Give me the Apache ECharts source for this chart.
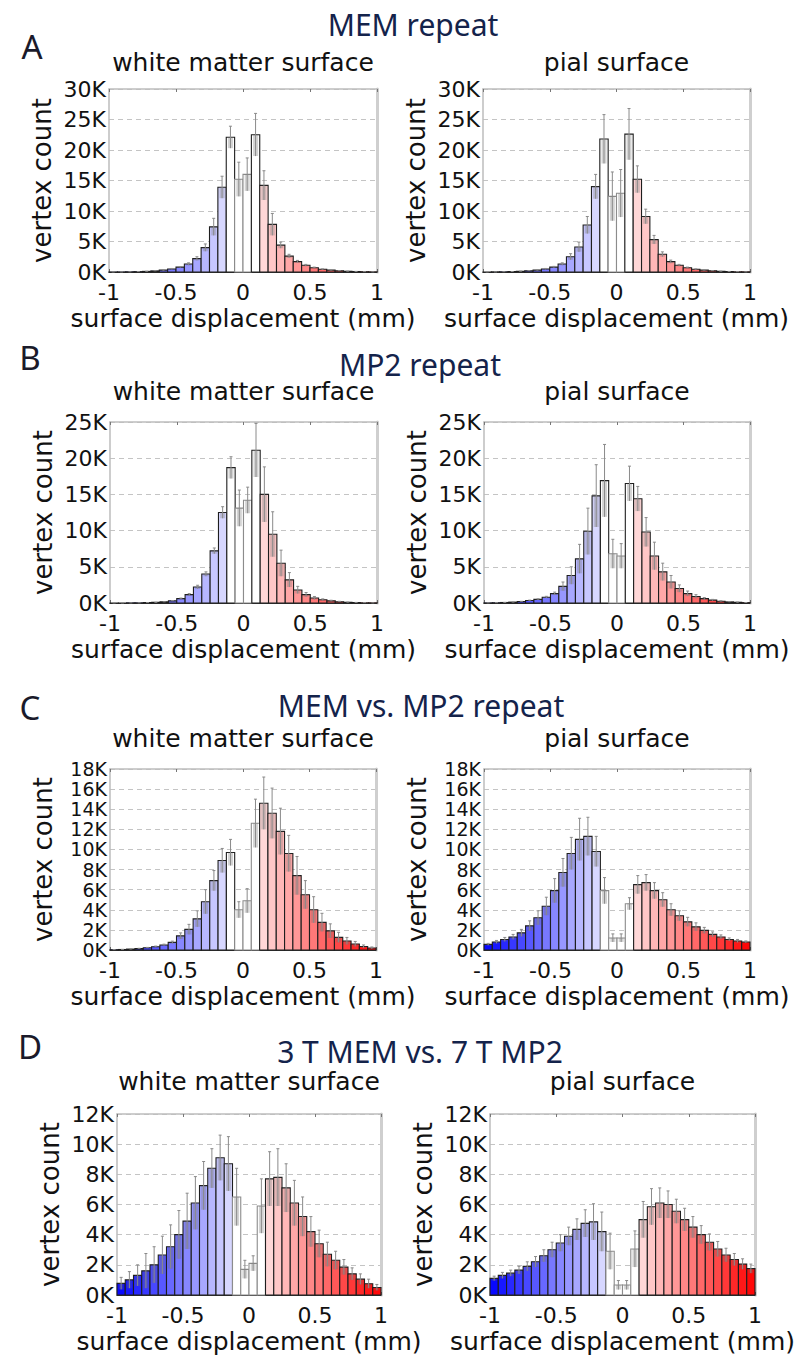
<!DOCTYPE html>
<html><head><meta charset="utf-8">
<script src="https://cdn.jsdelivr.net/npm/echarts@6/dist/echarts.min.js"></script>
<style>html,body{margin:0;padding:0;background:#fff}#c{width:807px;height:1357px}</style>
</head><body><div id="c"></div>
<script>
// ---------- text ----------
const sectionTitles = ['MEM repeat', 'MP2 repeat', 'MEM vs. MP2 repeat', '3 T MEM vs. 7 T MP2'];
const panelLetters = ['A', 'B', 'C', 'D'];
const surfaceNames = ['white matter surface', 'pial surface'];
const yAxisName = 'vertex count';
const xAxisName = 'surface displacement (mm)';
// ---------- axes (values in thousands, labels "nK") ----------
const yMaxK = [30, 25, 18, 12];
const yStepK = [5, 5, 2, 2];
const xMin = -1, xMax = 1, xStep = 0.5;

// ---------- histogram data: 32 bins from -1 to 1 (vertex count, thousands) ----------
const memWhite    = [0.01,0.02,0.04,0.06,0.1,0.18,0.3,0.5,0.8,1.3,2.2,4.0,7.4,13.9,22.1,15.2,16.0,22.5,14.2,7.8,4.4,2.6,1.7,1.1,0.7,0.45,0.3,0.2,0.12,0.08,0.05,0.03];
const memWhiteErr = [0,0,0,0.01,0.02,0.03,0.05,0.08,0.1,0.2,0.3,0.6,1.4,1.8,1.8,2.8,2.7,3.5,2.4,1.8,0.5,0.3,0.2,0.15,0.1,0.06,0.04,0.03,0.02,0.01,0.01,0];
const memPial     = [0.01,0.02,0.04,0.07,0.12,0.2,0.3,0.5,0.8,1.3,2.5,4.1,7.7,14.0,21.8,12.4,12.9,22.6,15.2,9.1,5.3,2.9,1.7,1.1,0.7,0.45,0.3,0.2,0.12,0.08,0.05,0.03];
const memPialErr  = [0,0,0.01,0.01,0.02,0.03,0.05,0.08,0.12,0.2,0.5,0.8,1.4,2.0,4.0,4.0,3.9,4.2,2.2,1.2,0.7,0.4,0.25,0.15,0.1,0.06,0.04,0.03,0.02,0.01,0.01,0];

const mp2White    = [0.01,0.01,0.02,0.03,0.05,0.08,0.15,0.3,0.6,1.15,2.2,4.0,7.2,12.5,18.7,13.1,14.2,21.1,15.0,9.5,5.5,3.2,1.8,1.15,0.7,0.45,0.3,0.18,0.1,0.06,0.04,0.02];
const mp2WhiteErr = [0,0,0,0,0.01,0.01,0.02,0.04,0.08,0.15,0.25,0.3,0.4,0.8,1.5,2.5,1.8,3.7,3.8,3.1,1.8,1.0,0.5,0.3,0.2,0.12,0.08,0.05,0.03,0.02,0.01,0];
const mp2Pial     = [0.02,0.04,0.07,0.12,0.2,0.35,0.5,0.8,1.3,2.3,3.8,6.1,9.9,14.8,16.9,6.8,6.5,16.5,14.4,9.8,6.5,4.3,2.9,2.0,1.3,0.9,0.6,0.4,0.25,0.15,0.1,0.05];
const mp2PialErr  = [0,0.01,0.01,0.02,0.03,0.05,0.08,0.12,0.2,0.6,1.2,2.0,3.2,4.3,5.0,2.0,1.7,2.4,1.7,2.0,1.9,1.2,0.9,0.5,0.35,0.25,0.15,0.1,0.06,0.04,0.03,0.02];

const crossWhite    = [0.03,0.05,0.09,0.14,0.22,0.33,0.5,0.76,1.4,2.05,3.1,4.8,6.9,8.9,9.7,4.0,4.9,12.6,14.6,13.6,11.8,9.6,7.4,5.5,4.0,2.75,1.9,1.26,0.9,0.6,0.35,0.2];
const crossWhiteErr = [0.01,0.01,0.02,0.03,0.04,0.06,0.08,0.12,0.3,0.5,0.8,1.2,1.0,1.2,1.3,0.8,1.2,2.4,2.6,2.5,2.3,1.8,1.9,1.4,1.3,0.9,0.7,0.5,0.35,0.25,0.15,0.1];
const crossPial     = [0.56,0.8,1.05,1.3,1.7,2.4,3.2,4.35,5.9,7.7,9.6,11.0,11.3,9.8,5.9,1.2,1.2,4.6,6.5,6.7,5.9,5.0,4.0,3.4,2.8,2.3,1.95,1.55,1.3,1.05,0.9,0.8];
const crossPialErr  = [0.1,0.15,0.2,0.25,0.35,0.5,0.7,0.9,1.2,1.4,1.6,2.1,1.9,1.5,1.3,0.4,0.4,0.6,0.9,0.8,0.8,0.7,0.6,0.5,0.45,0.4,0.3,0.25,0.2,0.15,0.15,0.1];

const fieldWhite    = [0.77,1.0,1.3,1.6,2.0,2.65,3.2,4.0,4.9,6.1,7.25,8.4,9.1,8.7,6.5,1.7,2.1,5.9,7.7,7.8,7.1,6.1,5.2,4.2,3.4,2.7,2.3,1.85,1.4,1.05,0.75,0.5];
const fieldWhiteErr = [0.4,0.55,0.7,1.15,1.2,1.25,1.45,1.6,1.85,1.75,1.6,1.3,1.5,1.8,1.9,0.6,0.5,1.8,1.8,1.9,1.6,1.5,1.3,1.0,0.9,0.8,0.6,0.5,0.4,0.35,0.3,0.2];
const fieldPial     = [1.1,1.3,1.45,1.65,1.9,2.2,2.6,3.0,3.45,3.9,4.35,4.75,4.85,4.2,2.9,0.66,0.66,3.05,5.0,5.85,6.1,6.0,5.55,5.0,4.5,4.0,3.5,3.05,2.65,2.35,2.05,1.75];
const fieldPialErr  = [0.15,0.2,0.2,0.25,0.3,0.35,0.4,0.5,0.55,0.6,0.7,0.9,1.2,1.3,1.2,0.3,0.3,1.2,1.2,1.2,1.0,0.9,0.8,0.75,0.7,0.6,0.55,0.5,0.45,0.4,0.35,0.3];

// bins drawn with a grey outline (central, non-coloured bins)
const greyBinsA = [15, 16];
const greyBinsB = [15, 16];
const greyBinsCWhite = [15, 16, 17];
const greyBinsCPial = [14, 15, 16, 17];
const greyBinsD = [14, 15, 16, 17];

// ---------- panel assembly ----------
const panels = [
  [[memWhite, memWhiteErr, greyBinsA], [memPial, memPialErr, greyBinsA]],
  [[mp2White, mp2WhiteErr, greyBinsB], [mp2Pial, mp2PialErr, greyBinsB]],
  [[crossWhite, crossWhiteErr, greyBinsCWhite], [crossPial, crossPialErr, greyBinsCPial]],
  [[fieldWhite, fieldWhiteErr, greyBinsD], [fieldPial, fieldPialErr, greyBinsD]]
];
// layout: [left, top, width, height] of each plot; text anchor positions
const layout = [
  {g: [[109, 89, 268, 183], [483, 89, 267, 183]], title: [413, 24], letter: [32, 46], sub: 62, lab: 22},
  {g: [[110, 422, 267, 181], [484, 422, 266, 181]], title: [420, 364], letter: [30, 357], sub: 391, lab: 22},
  {g: [[110, 769, 266, 181], [484, 769, 266, 181]], title: [421, 705], letter: [30, 707], sub: 738, lab: 19},
  {g: [[117, 1114, 264, 181], [490, 1114, 265, 181]], title: [420, 1051], letter: [30, 1046], sub: 1081, lab: 22}
];

const FONT = 'DejaVu Sans';
function binColor(c) {
  let t = Math.min(1, Math.abs(c));
  if (Math.abs(c) < 0.1) t = 0;
  const w = Math.round(255 * (1 - t));
  return c < 0 ? `rgb(${w},${w},255)` : `rgb(255,${w},${w})`;
}
function makeRender(binW) {
  return function (params, api) {
    const c = api.value(0), v = api.value(1), e = api.value(2), grey = api.value(3);
    const tl = api.coord([c - binW / 2, v]);
    const br = api.coord([c + binW / 2, 0]);
    const w = br[0] - tl[0];
    const cx = (tl[0] + br[0]) / 2;
    const yTop = api.coord([c, v + e])[1];
    const yLow = api.coord([c, Math.max(0, v - e)])[1];
    const children = [
      {type: 'rect', shape: {x: tl[0], y: tl[1], width: w, height: br[1] - tl[1]},
       style: {fill: grey ? '#ffffff' : binColor(c), stroke: grey ? '#8c8c8c' : '#1e1e1e', lineWidth: 1.1}},
      {type: 'rect', shape: {x: cx - w * 0.3, y: tl[1], width: w * 0.6, height: Math.max(0, yLow - tl[1])},
       style: {fill: 'rgba(110,110,110,0.30)'}},
      {type: 'line', shape: {x1: cx, y1: yLow, x2: cx, y2: yTop}, style: {stroke: '#8a8a8a', lineWidth: 1}},
      {type: 'line', shape: {x1: cx - 1.5, y1: yTop, x2: cx + 1.5, y2: yTop}, style: {stroke: '#8a8a8a', lineWidth: 1}}
    ];
    return {type: 'group', children};
  };
}

const grid = [], xAxis = [], yAxis = [], series = [], graphic = [];
panels.forEach((row, r) => {
  const L = layout[r];
  graphic.push({type: 'text', x: L.title[0], y: L.title[1],
    style: {text: sectionTitles[r], font: '30px "Noto Sans"', fill: '#14234b', align: 'center', verticalAlign: 'middle', textAlign: 'center', textVerticalAlign: 'middle'}});
  graphic.push({type: 'text', x: L.letter[0], y: L.letter[1],
    style: {text: panelLetters[r], font: '33px "Noto Sans"', fill: '#1a1a2a', align: 'center', verticalAlign: 'middle', textAlign: 'center', textVerticalAlign: 'middle'}});
  row.forEach((pd, s) => {
    const [vals, errs, greys] = pd;
    const gi = grid.length;
    const [gl, gt, gw, gh] = L.g[s];
    grid.push({left: gl, top: gt, width: gw, height: gh, show: false});
    graphic.push({type: 'text', x: gl + gw / 2, y: L.sub,
      style: {text: surfaceNames[s], font: '25px "DejaVu Sans"', fill: '#111', align: 'center', verticalAlign: 'middle', textAlign: 'center', textVerticalAlign: 'middle'}});
    xAxis.push({type: 'value', gridIndex: gi, min: xMin, max: xMax, interval: xStep, position: 'bottom',
      axisLine: {onZero: false, lineStyle: {color: '#333', width: 1}},
      axisTick: {inside: true, length: 3, lineStyle: {color: '#666'}},
      axisLabel: {fontFamily: FONT, fontSize: 22, lineHeight: 20, color: '#111', margin: 10, showMinLabel: true, showMaxLabel: true},
      splitLine: {show: false},
      name: xAxisName, nameLocation: 'middle', nameGap: 34,
      nameTextStyle: {fontFamily: FONT, fontSize: 25, color: '#111'}});
    xAxis.push({type: 'value', gridIndex: gi, min: xMin, max: xMax, interval: xStep, position: 'top',
      axisLine: {onZero: false, lineStyle: {color: '#bdbdbd', width: 1.5}},
      axisTick: {inside: true, length: 3, lineStyle: {color: '#777'}},
      axisLabel: {show: false}, splitLine: {show: false}});
    yAxis.push({type: 'value', gridIndex: gi, min: 0, max: yMaxK[r], interval: yStepK[r], position: 'left',
      axisLine: {show: true, onZero: false, lineStyle: {color: '#bdbdbd', width: 1.5}},
      axisTick: {show: false},
      axisLabel: {fontFamily: FONT, fontSize: L.lab, lineHeight: 18, color: '#111', margin: 3, showMinLabel: true, showMaxLabel: true,
        formatter: v => v + 'K'},
      splitLine: {show: true, lineStyle: {color: '#c4c4c4', type: [5, 4], width: 1}},
      name: yAxisName, nameLocation: 'middle', nameGap: 54,
      nameTextStyle: {fontFamily: FONT, fontSize: 26, color: '#111'}});
    yAxis.push({type: 'value', gridIndex: gi, min: 0, max: yMaxK[r], interval: yStepK[r], position: 'right',
      axisLine: {show: true, onZero: false, lineStyle: {color: '#cfcfcf', width: 3}},
      axisTick: {show: false}, axisLabel: {show: false}, splitLine: {show: false}});
    const n = vals.length, binW = (xMax - xMin) / n;
    const data = vals.map((v, i) => [xMin + (i + 0.5) * binW, v, errs[i], greys.includes(i) ? 1 : 0]);
    series.push({type: 'custom', xAxisIndex: gi * 2, yAxisIndex: gi * 2, data,
      encode: {x: 0, y: 1}, renderItem: makeRender(binW), clip: false, silent: true, animation: false});
  });
});

const chart = echarts.init(document.getElementById('c'), null, {renderer: 'svg'});
chart.setOption({backgroundColor: '#fff', animation: false, grid, xAxis, yAxis, series, graphic});
</script></body></html>
